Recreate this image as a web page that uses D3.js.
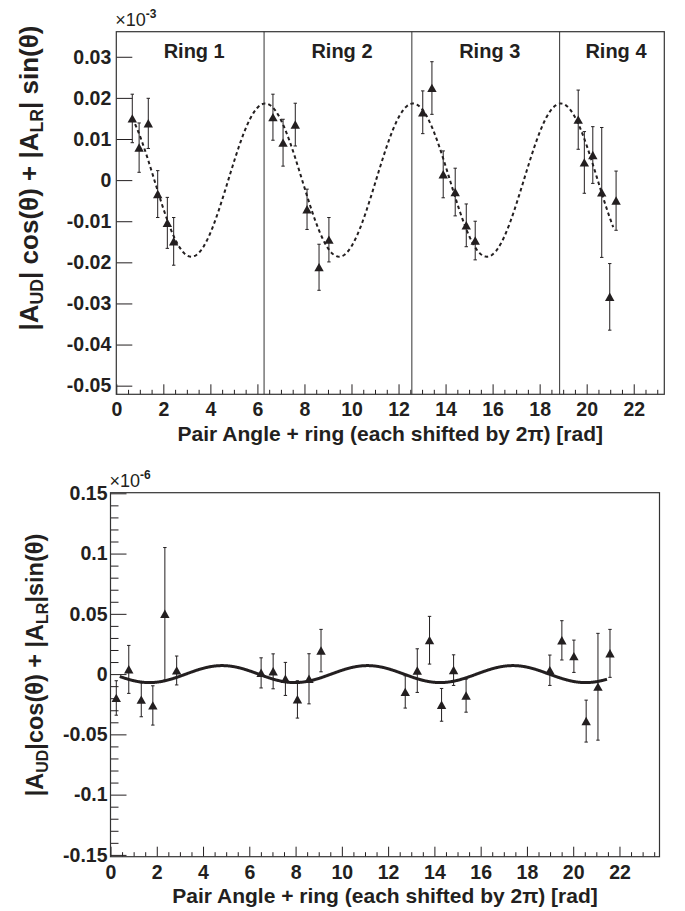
<!DOCTYPE html>
<html>
<head>
<meta charset="utf-8">
<script src="https://cdn.jsdelivr.net/npm/d3@7"></script>
<style>
    body { margin: 0; background: #fff; }
    svg text { font-family: "Liberation Sans", Arial, Helvetica, sans-serif; fill: #231f20; }
</style>
</head>
<body>
<div id="chart"></div>
<script>

// values (pair angle shifted by 2pi per ring)

// upper panel, units of 1e-3 as printed on the axis
var topX   = [0.68, 0.97, 1.36, 1.76, 2.17, 2.44,
              6.66, 7.09, 7.61, 8.11, 8.62, 9.04,
              13.03, 13.42, 13.90, 14.41, 14.88, 15.26,
              19.64, 19.90, 20.26, 20.64, 20.98, 21.25];
var topY   = [0.0150, 0.0079, 0.0138, -0.0034, -0.0104, -0.0149,
              0.0153, 0.0091, 0.0135, -0.0071, -0.0212, -0.0145,
              0.0165, 0.0224, 0.0014, -0.0029, -0.0110, -0.0147,
              0.0147, 0.0043, 0.0061, -0.0030, -0.0284, -0.0050];
var topErr = [0.0059, 0.0060, 0.0061, 0.0057, 0.0062, 0.0058,
              0.0056, 0.0057, 0.0052, 0.0049, 0.0056, 0.0054,
              0.0052, 0.0064, 0.0057, 0.0058, 0.0052, 0.0047,
              0.0072, 0.0075, 0.0069, 0.0158, 0.0081, 0.0072];

// lower panel, units of 1e-6
var botX   = [0.25, 0.79, 1.33, 1.83, 2.35, 2.86,
              6.51, 7.03, 7.56, 8.08, 8.58, 9.10,
              12.74, 13.26, 13.79, 14.31, 14.83, 15.37,
              18.99, 19.51, 20.03, 20.56, 21.07, 21.59];
var botY   = [-0.0198, 0.0039, -0.0213, -0.0260, 0.0500, 0.0030,
              0.0010, 0.0023, -0.0040, -0.0210, -0.0039, 0.0195,
              -0.0148, 0.0029, 0.0281, -0.0255, 0.0033, -0.0179,
              0.0032, 0.0280, 0.0148, -0.0390, -0.0105, 0.0172];
var botErr = [0.0143, 0.0199, 0.0141, 0.0163, 0.0550, 0.0120,
              0.0125, 0.0145, 0.0137, 0.0155, 0.0208, 0.0176,
              0.0134, 0.0181, 0.0198, 0.0136, 0.0127, 0.0137,
              0.0126, 0.0163, 0.0134, 0.0174, 0.0443, 0.0199];

// fitted |A_UD| cos + |A_LR| sin parameters
var topFitUD = 0.0186, topFitLR = 0.0009, topFitRange = [0.68, 21.13];
var botFitUD = 0.0008, botFitLR = -0.0070, botFitRange = [0.40, 21.46];

var ringNames  = ["Ring 1", "Ring 2", "Ring 3", "Ring 4"];
var xTicks     = [0, 2, 4, 6, 8, 10, 12, 14, 16, 18, 20, 22];
var topYTicks  = [-0.05, -0.04, -0.03, -0.02, -0.01, 0, 0.01, 0.02, 0.03];
var botYTicks  = [-0.15, -0.1, -0.05, 0, 0.05, 0.1, 0.15];

var ink = "#231f20";

var svg = d3.select("#chart").append("svg")
    .attr("width", 685)
    .attr("height", 911);

/*** ONE PANEL: frame, axes, fit curve, points */
function drawPanel(cfg) {
    var x = d3.scaleLinear().domain(cfg.xDomain).range([cfg.left, cfg.right]);
    var y = d3.scaleLinear().domain(cfg.yDomain).range([cfg.bottom, cfg.top]);

    var g = svg.append("g");

    // minor x ticks every 0.5
    var xMinor = d3.range(0, cfg.xDomain[1], 0.5).filter(function(v) { return Math.abs(v / 2 - Math.round(v / 2)) > 1e-6; });
    g.append("g")
        .attr("transform", "translate(0," + cfg.bottom + ")")
        .call(d3.axisBottom(x).tickValues(xMinor).tickSizeInner(-4.5).tickSizeOuter(0).tickFormat(""))
        .call(function(a) { a.select(".domain").remove(); });

    var xAxis = g.append("g")
        .attr("transform", "translate(0," + cfg.bottom + ")")
        .call(d3.axisBottom(x).tickValues(xTicks).tickSizeInner(-10).tickSizeOuter(0).tickPadding(8).tickFormat(function(d) { return String(d); }));
    xAxis.select(".domain").remove();

    if (cfg.yMinor) {
        g.append("g")
            .attr("transform", "translate(" + cfg.left + ",0)")
            .call(d3.axisLeft(y).tickValues(cfg.yMinor).tickSizeInner(-8).tickSizeOuter(0).tickFormat(""))
            .call(function(a) { a.select(".domain").remove(); });
    }

    var yAxis = g.append("g")
        .attr("transform", "translate(" + cfg.left + ",0)")
        .call(d3.axisLeft(y).tickValues(cfg.yTicks).tickSizeInner(-16).tickSizeOuter(0).tickPadding(cfg.yPad).tickFormat(function(d) { return String(d); }));
    yAxis.select(".domain").remove();

    g.selectAll(".tick line").attr("stroke", ink).attr("stroke-width", 1);
    g.selectAll(".tick text")
        .attr("fill", ink)
        .style("font-family", '"Liberation Sans", Arial, sans-serif')
        .style("font-size", "19.5px")
        .style("font-weight", "bold");

    // frame
    g.append("rect")
        .attr("x", cfg.left)
        .attr("y", cfg.top)
        .attr("width", cfg.right - cfg.left)
        .attr("height", cfg.bottom - cfg.top)
        .attr("fill", "none")
        .attr("stroke", "#333")
        .attr("stroke-width", 1.2);

    // multiplier above the frame
    var mult = g.append("text")
        .attr("x", cfg.left - 1)
        .attr("y", cfg.top - 6)
        .style("font-size", "18px");
    mult.append("tspan").text("×10");
    mult.append("tspan")
        .attr("dy", -8)
        .style("font-size", "12px")
        .style("font-weight", "bold")
        .text(cfg.exponent);

    // fit curve
    var pts = d3.range(cfg.fitRange[0], cfg.fitRange[1], 0.02).concat([cfg.fitRange[1]]);
    var line = d3.line()
        .x(function(t) { return x(t); })
        .y(function(t) { return y(cfg.fitUD * Math.cos(t) + cfg.fitLR * Math.sin(t)); });
    g.append("path")
        .datum(pts)
        .attr("d", line)
        .attr("fill", "none")
        .attr("stroke", ink)
        .attr("stroke-width", cfg.dashed ? 2 : 3)
        .attr("stroke-dasharray", cfg.dashed ? "3.5,3" : null);

    // error bars
    var idx = d3.range(cfg.px.length);
    var bars = g.selectAll(".bar").data(idx).enter().append("g").attr("class", "bar");
    bars.append("line")
        .attr("x1", function(i) { return x(cfg.px[i]); })
        .attr("x2", function(i) { return x(cfg.px[i]); })
        .attr("y1", function(i) { return y(cfg.py[i] - cfg.pe[i]); })
        .attr("y2", function(i) { return y(cfg.py[i] + cfg.pe[i]); })
        .attr("stroke", ink)
        .attr("stroke-width", 1);
    [-1, 1].forEach(function(s) {
        bars.append("line")
            .attr("x1", function(i) { return x(cfg.px[i]) - 1.7; })
            .attr("x2", function(i) { return x(cfg.px[i]) + 1.7; })
            .attr("y1", function(i) { return y(cfg.py[i] + s * cfg.pe[i]); })
            .attr("y2", function(i) { return y(cfg.py[i] + s * cfg.pe[i]); })
            .attr("stroke", ink)
            .attr("stroke-width", 1);
    });

    // triangle markers
    g.selectAll(".marker").data(idx).enter().append("path")
        .attr("class", "marker")
        .attr("d", "M0,-4.3L4.7,4.1L-4.7,4.1Z")
        .attr("transform", function(i) { return "translate(" + x(cfg.px[i]) + "," + y(cfg.py[i]) + ")"; })
        .attr("fill", ink);

    // axis titles
    g.append("text")
        .attr("x", (cfg.left + cfg.right) / 2)
        .attr("y", cfg.bottom + 46.5)
        .attr("text-anchor", "middle")
        .style("font-size", "21px")
        .style("font-weight", "bold")
        .text("Pair Angle + ring (each shifted by 2π) [rad]");

    var yt = g.append("text")
        .attr("transform", "translate(" + cfg.yTitleX + "," + cfg.yTitleY + ") rotate(-90)")
        .attr("text-anchor", "middle")
        .style("font-size", cfg.yTitleSize + "px")
        .style("font-weight", "bold");
    var sp = cfg.yTitleGap;
    yt.append("tspan").text("|A");
    yt.append("tspan").attr("dy", "0.3em").style("font-size", "0.68em").text("UD");
    yt.append("tspan").attr("dy", "-0.204em").text("|" + sp + "cos(θ) + |A");
    yt.append("tspan").attr("dy", "0.3em").style("font-size", "0.68em").text("LR");
    yt.append("tspan").attr("dy", "-0.204em").text("|" + sp + "sin(θ)");

    return { x: x, y: y, g: g };
}

/*** UPPER PANEL */
var upper = drawPanel({
    left: 116.3, right: 664.3, top: 31.7, bottom: 394.3,
    xDomain: [0, 23.3], yDomain: [-0.0521, 0.0361],
    yTicks: topYTicks, yPad: 5,
    exponent: "-3",
    px: topX, py: topY, pe: topErr,
    fitUD: topFitUD, fitLR: topFitLR, fitRange: topFitRange, dashed: true,
    yTitleX: 38, yTitleY: 178, yTitleSize: 26, yTitleGap: " "
});

// ring separators and labels
var ringEdges = d3.range(1, ringNames.length).map(function(k) { return 2 * Math.PI * k; });
upper.g.selectAll(".ring-edge").data(ringEdges).enter().append("line")
    .attr("class", "ring-edge")
    .attr("x1", function(d) { return upper.x(d); })
    .attr("x2", function(d) { return upper.x(d); })
    .attr("y1", 31.7)
    .attr("y2", 394.3)
    .attr("stroke", "#333")
    .attr("stroke-width", 1);

var ringBounds = [0].concat(ringEdges).concat([23.3]);
upper.g.selectAll(".ring-label").data(ringNames).enter().append("text")
    .attr("class", "ring-label")
    .attr("x", function(d, i) { return (upper.x(ringBounds[i]) + upper.x(ringBounds[i + 1])) / 2 + 4; })
    .attr("y", 58)
    .attr("text-anchor", "middle")
    .style("font-size", "20px")
    .style("font-weight", "bold")
    .text(function(d) { return d; });

/*** LOWER PANEL */
var botMinor = d3.range(-15, 16).filter(function(v) { return v % 5 !== 0; }).map(function(v) { return v / 100; });
drawPanel({
    left: 110.5, right: 659.5, top: 492.7, bottom: 856.7,
    xDomain: [0, 23.73], yDomain: [-0.1515, 0.1505],
    yTicks: botYTicks, yMinor: botMinor, yPad: 3,
    exponent: "-6",
    px: botX, py: botY, pe: botErr,
    fitUD: botFitUD, fitLR: botFitLR, fitRange: botFitRange, dashed: false,
    yTitleX: 43, yTitleY: 665, yTitleSize: 23.5, yTitleGap: ""
});

</script>
</body>
</html>
